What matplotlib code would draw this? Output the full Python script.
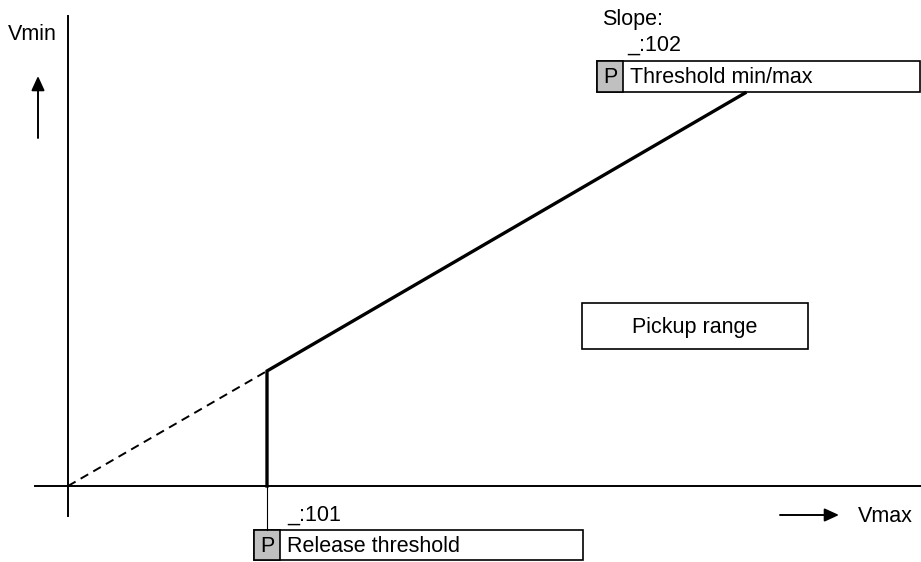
import matplotlib.pyplot as plt
from matplotlib.patches import Rectangle

plt.rcParams['font.family'] = ['Liberation Sans', 'DejaVu Sans']

# characteristic (image units, y downwards)
origin = [68, 486]
release_pt = [267, 371]
slope_end = [745, 93]

# boxes: x0, y0, x1, y1
box_slope = [597, 61, 920, 92]
box_release = [254, 530, 583, 560]
box_pickup = [582, 303, 808, 349]
p_width = 26

labels_slope = ["Slope:", "_:102", "Threshold min/max"]
labels_release = ["_:101", "Release threshold"]

fs = 15.5

fig = plt.figure(figsize=(9.21, 5.62), dpi=100)
ax = fig.add_axes([0, 0, 1, 1])
ax.set_xlim(0, 921)
ax.set_ylim(562, 0)
ax.axis('off')

# axes of the diagram
ax.plot([origin[0], origin[0]], [16, 516], color='black', lw=1.4)
ax.plot([35, 921], [origin[1], origin[1]], color='black', lw=1.4)

# dashed extension
ax.plot([origin[0], release_pt[0]], [origin[1], release_pt[1]], color='black', lw=1.4, ls=(0, (4.5, 3)))
# thick characteristic
ax.plot([release_pt[0], release_pt[0], slope_end[0]], [origin[1], release_pt[1], slope_end[1]],
        color='black', lw=2.4, solid_joinstyle='miter')
# thin line down to release box
ax.plot([release_pt[0], release_pt[0]], [origin[1], box_release[1]], color='black', lw=0.8)

def pbox(b, text):
    ax.add_patch(Rectangle((b[0], b[1]), b[2]-b[0], b[3]-b[1], fc='white', ec='black', lw=1.2))
    ax.add_patch(Rectangle((b[0], b[1]), p_width, b[3]-b[1], fc='#c0c0c0', ec='black', lw=1.2))
    cy = (b[1]+b[3])/2 + 1
    ax.text(b[0]+p_width/2, cy, "P", ha='center', va='center', fontsize=fs)
    ax.text(b[0]+p_width+7, cy, text, ha='left', va='center', fontsize=fs)

pbox(box_slope, labels_slope[2])
pbox(box_release, labels_release[1])

ax.text(602, 19, labels_slope[0], ha='left', va='center', fontsize=fs)
ax.text(627, 45, labels_slope[1], ha='left', va='center', fontsize=fs)
ax.text(287, 515, labels_release[0], ha='left', va='center', fontsize=fs)

# pickup range
b = box_pickup
ax.add_patch(Rectangle((b[0], b[1]), b[2]-b[0], b[3]-b[1], fc='white', ec='black', lw=1.2))
ax.text((b[0]+b[2])/2, (b[1]+b[3])/2 + 1, "Pickup range", ha='center', va='center', fontsize=fs)

# axis labels with arrows
arrow = dict(arrowstyle='-|>,head_length=0.72,head_width=0.33', color='black', lw=1.4,
             mutation_scale=12, shrinkA=0, shrinkB=0)
ax.text(8, 35, "Vmin", ha='left', va='center', fontsize=fs)
ax.annotate("", xy=(38, 76), xytext=(38, 138), arrowprops=arrow)
ax.annotate("", xy=(839, 515), xytext=(780, 515), arrowprops=arrow)
ax.text(858, 517, "Vmax", ha='left', va='center', fontsize=fs)

fig.savefig("out.png", dpi=100)
